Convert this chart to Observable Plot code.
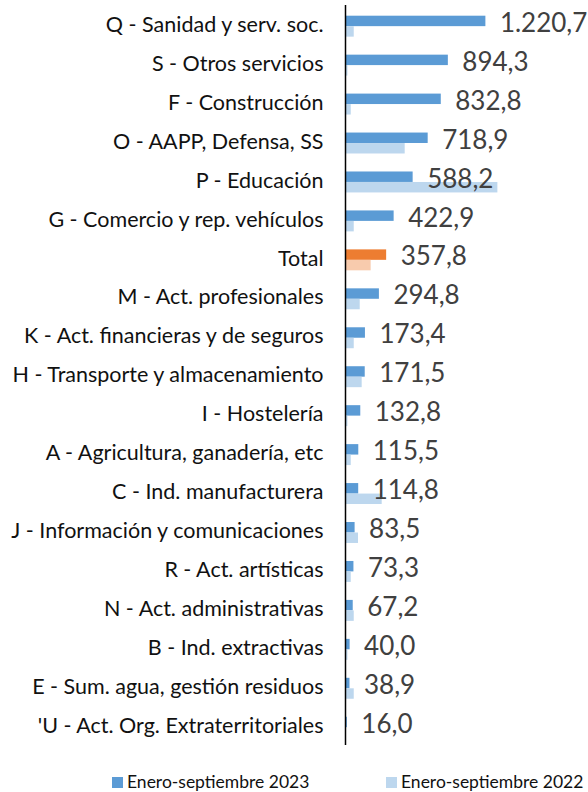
<!DOCTYPE html>
<html>
<head>
<meta charset="utf-8">
<script src="https://cdn.jsdelivr.net/npm/d3@7"></script>
<script src="https://cdn.jsdelivr.net/npm/@observablehq/plot@0.6"></script>
<style>
  html, body { margin: 0; padding: 0; background: #fff; }
  body { width: 588px; height: 792px; overflow: hidden; font-family: Lato, "Open Sans", sans-serif; }
  #chart svg { display: block; }
  #legend { position: relative; height: 28px; width: 588px; white-space: nowrap; font-size: 17.5px; color: #111; }
  .item { position: absolute; top: 8px; display: flex; align-items: center; line-height: 20px; }
  .sw { width: 11px; height: 11px; margin-right: 4px; }
</style>
</head>
<body>
<div id="chart"></div>
<div id="legend"></div>
<script>
const categories = [
  "Q - Sanidad y serv. soc.",
  "S - Otros servicios",
  "F - Construcción",
  "O - AAPP, Defensa, SS",
  "P - Educación",
  "G - Comercio y rep. vehículos",
  "Total",
  "M - Act. profesionales",
  "K - Act. financieras y de seguros",
  "H - Transporte y almacenamiento",
  "I - Hostelería",
  "A - Agricultura, ganadería, etc",
  "C - Ind. manufacturera",
  "J - Información y comunicaciones",
  "R - Act. artísticas",
  "N - Act. administrativas",
  "B - Ind. extractivas",
  "E - Sum. agua, gestión residuos",
  "'U - Act. Org. Extraterritoriales"
];
const values2023 = [1220.7, 894.3, 832.8, 718.9, 588.2, 422.9, 357.8, 294.8, 173.4, 171.5, 132.8, 115.5, 114.8, 83.5, 73.3, 67.2, 40.0, 38.9, 16.0];
const values2022 = [76, 21, 50, 519, 1325, 76, 223, 128, 76, 145, 21, 50, 319, 113, 50, 76, 21, 76, 0];
const seriesNames = ["Enero-septiembre 2023", "Enero-septiembre 2022"];
const colors = { blue: "#5B9BD5", lightBlue: "#BDD7EE", orange: "#ED7D31", lightOrange: "#F8CBAD" };

const rows = categories.map((c, i) => ({ cat: c, v23: values2023[i], v22: values2022[i] }));
const fmt = v => {
  const s = v.toFixed(1).split(".");
  const int = s[0].replace(/\B(?=(\d{3})+(?!\d))/g, ".");
  return int + "," + s[1];
};

const chart = Plot.plot({
  width: 588,
  height: 764,
  marginLeft: 345,
  marginRight: 0,
  marginTop: 5,
  marginBottom: 19,
  style: { fontFamily: "Lato, 'Open Sans', sans-serif", background: "#fff", overflow: "visible" },
  x: { domain: [0, 2113], axis: null },
  y: { domain: categories, padding: 0, round: false, label: null, axis: null },
  color: { type: "identity" },
  marks: [
    Plot.axisY({ tickSize: 0, tickPadding: 22, fontSize: 21.5, color: "#111", label: null }),
    Plot.barX(rows, { y: "cat", x: "v23", fill: d => d.cat === "Total" ? colors.orange : colors.blue, insetTop: 10.7, insetBottom: 17.8 }),
    Plot.barX(rows, { y: "cat", x: "v22", fill: d => d.cat === "Total" ? colors.lightOrange : colors.lightBlue, insetTop: 21.2, insetBottom: 7.3 }),
    Plot.ruleX([0], { stroke: "#000", strokeWidth: 1.5 }),
    Plot.text(rows, { y: "cat", x: "v23", text: d => fmt(d.v23), textAnchor: "start", dx: 14, dy: -1.5, fontSize: 26, fill: "#404040" })
  ]
});
document.getElementById("chart").appendChild(chart);

const legend = document.getElementById("legend");
[[seriesNames[0], colors.blue, 112], [seriesNames[1], colors.lightBlue, 386]].forEach(([name, col, x]) => {
  const it = document.createElement("div");
  it.className = "item";
  it.style.left = x + "px";
  it.innerHTML = `<span class="sw" style="background:${col}"></span><span>${name}</span>`;
  legend.appendChild(it);
});
</script>
</body>
</html>
